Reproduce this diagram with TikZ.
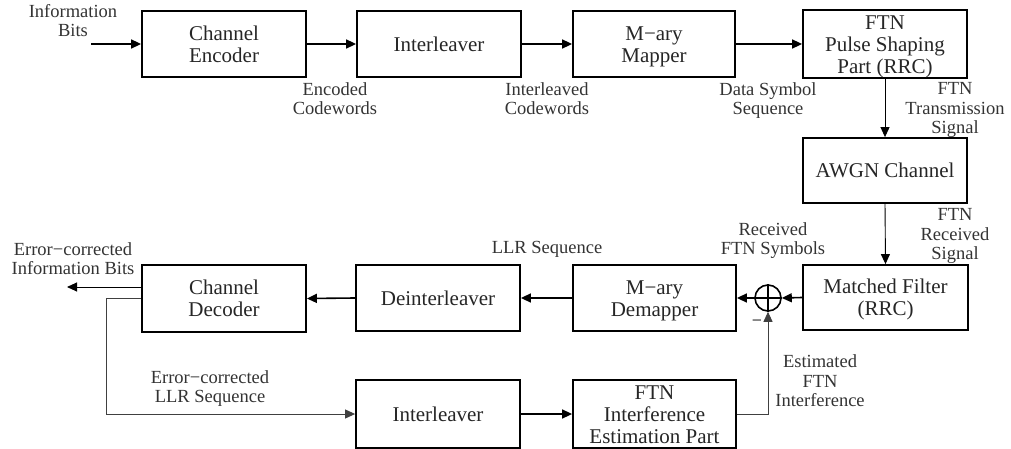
\documentclass[tikz,border=0pt]{standalone}
\usepackage{fontspec}
\setmainfont{Liberation Serif}
\usetikzlibrary{arrows.meta}
\newcommand{\blkfont}{\fontsize{21}{22}\selectfont\lineskiplimit=-100pt\relax}
\newcommand{\lblfont}{\fontsize{18.5}{19.5}\selectfont\lineskiplimit=-100pt\relax}
\newcommand{\bs}{\rule[-4.6pt]{0pt}{23.8pt}}
\newcommand{\ls}{\rule[-4pt]{0pt}{20.2pt}}
\begin{document}
\begin{tikzpicture}[x=1pt,y=-1pt,
  blk/.style={draw=black,line width=1.8pt,rectangle,inner sep=0pt,align=center,
    font=\blkfont,text=black!85},
  lbl/.style={align=center,inner sep=0pt,font=\lblfont,text=black!80},
  con/.style={line width=1.6pt,-{Triangle[length=10pt,width=9pt]}},
  thin/.style={line width=0.9pt,-{Triangle[length=10pt,width=9pt]}},
  fb/.style={line width=0.9pt,draw=black!75}]
\useasboundingbox (0,0) rectangle (1011,449);
% top row
\node[blk,minimum width=164pt,minimum height=66pt] (enc) at (224,44) {\bs Channel\\\bs Encoder};
\node[blk,minimum width=164pt,minimum height=66pt] (int1) at (439,44) {\bs Interleaver};
\node[blk,minimum width=162pt,minimum height=66pt] (map) at (654,44) {\bs M−ary\\\bs Mapper};
\node[blk,minimum width=164pt,minimum height=66pt] (ftn) at (885,44) {\bs FTN\\\bs Pulse Shaping\\\bs Part (RRC)};
% right column
\node[blk,minimum width=164pt,minimum height=65pt] (awgn) at (885,170.5) {\bs AWGN Channel};
\node[blk,minimum width=165pt,minimum height=65pt] (mf) at (885.5,297.5) {\bs Matched Filter\\\bs (RRC)};
% middle row
\node[blk,minimum width=163pt,minimum height=66pt] (demap) at (654.5,298) {\bs M−ary\\\bs Demapper};
\node[blk,minimum width=164pt,minimum height=66pt] (deint) at (438,298) {\bs Deinterleaver};
\node[blk,minimum width=164pt,minimum height=67pt] (dec) at (224,298.5) {\bs Channel\\\bs Decoder};
% bottom row
\node[blk,minimum width=164pt,minimum height=68pt] (int2) at (438,414) {\bs Interleaver};
\node[blk,minimum width=163pt,minimum height=68pt] (est) at (654.5,414) {\bs FTN\\\bs Interference\\\bs Estimation Part};
% summing junction
\node[draw,circle,line width=1.6pt,minimum size=26pt,inner sep=0pt] (sum) at (768,298) {};
\draw[line width=1.2pt] (sum.north) -- (sum.south) (sum.west) -- (sum.east);
\node[inner sep=0pt,font=\fontsize{18}{18}\selectfont] (minus) at (757,323) {−};
% coordinates
\coordinate (in) at (91,44);
\coordinate (out) at (67,287);
% connectors
\draw[con] (in) -- (enc.west);
\draw[con] (enc.east) -- (int1.west);
\draw[con] (int1.east) -- (map.west);
\draw[con] (map.east) -- (ftn.west);
\draw[thin] (ftn.south) -- (awgn.north);
\draw[thin] (awgn.south) -- (mf.north);
\draw[con] (mf.west) -- (sum.east);
\draw[con] (sum.west) -- (demap.east);
\draw[con] (demap.west) -- (deint.east);
\draw[con] (deint.west) -- (dec.east);
\draw[thin] (dec.west |- out) -- (out);
\draw[fb,-{Triangle[length=10pt,width=9pt]}] (dec.west) -- ++(-35,0) |- (int2.west);
\draw[con] (int2.east) -- (est.west);
\draw[fb,-{Triangle[length=10pt,width=9pt]}] (est.east) -| (sum.south);
% labels
\node[lbl] (l1) at (73,21) {\ls Information\\\ls Bits};
\node[lbl] (l2) at (335,99) {\ls Encoded\\\ls Codewords};
\node[lbl] (l3) at (547,99) {\ls Interleaved\\\ls Codewords};
\node[lbl] (l4) at (768,99) {\ls Data Symbol\\\ls Sequence};
\node[lbl] (l5) at (955,108) {\ls FTN\\\ls Transmission\\\ls Signal};
\node[lbl] (l6) at (955,234) {\ls FTN\\\ls Received\\\ls Signal};
\node[lbl] (l7) at (773,239) {\ls Received\\\ls FTN Symbols};
\node[lbl] (l8) at (547,247) {\ls LLR Sequence};
\node[lbl] (l9) at (73,259) {\ls Error−corrected\\\ls Information Bits};
\node[lbl] (l10) at (210,387) {\ls Error−corrected\\\ls LLR Sequence};
\node[lbl] (l11) at (820,381) {\ls Estimated\\\ls FTN\\\ls Interference};
\end{tikzpicture}
\end{document}
